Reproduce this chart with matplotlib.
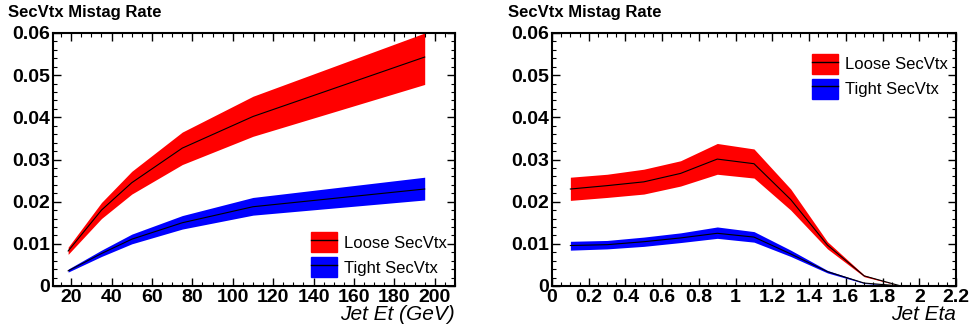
# SecVtx mistag rate vs jet Et and jet eta

import numpy as np
import matplotlib.pyplot as plt
from matplotlib.ticker import MultipleLocator
from matplotlib.patches import Patch
from matplotlib.lines import Line2D

plt.rcParams['font.family'] = ['Liberation Sans', 'DejaVu Sans']

# Jet Et panel
et = [18.5, 35, 50, 75, 110, 195]
loose_et = [0.0083, 0.0180, 0.0245, 0.0327, 0.0402, 0.0543]
loose_et_lo = [0.0075, 0.0160, 0.0218, 0.0288, 0.0355, 0.0478]
loose_et_hi = [0.0092, 0.0198, 0.0272, 0.0365, 0.0450, 0.0600]
tight_et = [0.0036, 0.0077, 0.0111, 0.0150, 0.0188, 0.0230]
tight_et_lo = [0.0033, 0.0070, 0.0100, 0.0135, 0.0168, 0.0204]
tight_et_hi = [0.0040, 0.0085, 0.0123, 0.0167, 0.0210, 0.0258]

# Jet eta panel
eta = [0.1, 0.3, 0.5, 0.7, 0.9, 1.1, 1.3, 1.5, 1.7, 1.9]
loose_eta = [0.0230, 0.0238, 0.0247, 0.0267, 0.0301, 0.0290, 0.0205, 0.0097, 0.0024, 0.0]
loose_eta_lo = [0.0203, 0.0210, 0.0218, 0.0237, 0.0265, 0.0256, 0.0180, 0.0088, 0.0022, 0.0]
loose_eta_hi = [0.0258, 0.0265, 0.0277, 0.0297, 0.0338, 0.0325, 0.0230, 0.0105, 0.0026, 0.0]
tight_eta = [0.0096, 0.0098, 0.0105, 0.0114, 0.0125, 0.0116, 0.0076, 0.0034, 0.0007, 0.0]
tight_eta_lo = [0.0085, 0.0088, 0.0094, 0.0103, 0.0113, 0.0104, 0.0070, 0.0031, 0.0006, 0.0]
tight_eta_hi = [0.0106, 0.0108, 0.0116, 0.0126, 0.0140, 0.0129, 0.0085, 0.0037, 0.0008, 0.0]

fig = plt.figure(figsize=(9.7, 3.33), dpi=100)
ax1 = fig.add_axes([53/970, 1 - 286/333, 402/970, 253/333])
ax2 = fig.add_axes([552/970, 1 - 286/333, 404/970, 253/333])


def draw(ax, x, l, llo, lhi, t, tlo, thi):
    ax.fill_between(x, llo, lhi, color='#ff0000', lw=0)
    ax.plot(x, l, color='black', lw=0.8)
    ax.fill_between(x, tlo, thi, color='#0000ff', lw=0)
    ax.plot(x, t, color='black', lw=0.8)
    ax.set_ylim(0, 0.06)
    ax.yaxis.set_major_locator(MultipleLocator(0.01))
    ax.yaxis.set_minor_locator(MultipleLocator(0.002))
    ax.yaxis.set_major_formatter(plt.FuncFormatter(lambda v, p: '0' if v == 0 else '%g' % round(v, 3)))
    ax.tick_params(which='both', direction='in', top=True, right=True)
    ax.tick_params(which='major', length=6, width=1, labelsize=14, pad=2)
    ax.tick_params(which='minor', length=3, width=0.8)
    for s in ax.spines.values():
        s.set_linewidth(1.5)


draw(ax1, et, loose_et, loose_et_lo, loose_et_hi, tight_et, tight_et_lo, tight_et_hi)
ax1.set_xlim(11, 210)
ax1.set_xticks(np.arange(20, 201, 20))
ax1.xaxis.set_minor_locator(MultipleLocator(5))

draw(ax2, eta, loose_eta, loose_eta_lo, loose_eta_hi, tight_eta, tight_eta_lo, tight_eta_hi)
ax2.set_xlim(0, 2.2)
ax2.xaxis.set_major_locator(MultipleLocator(0.2))
ax2.xaxis.set_minor_locator(MultipleLocator(0.05))
ax2.xaxis.set_major_formatter(plt.FuncFormatter(lambda v, p: '%g' % round(v, 2)))

for ax in (ax1, ax2):
    for lab in ax.get_xticklabels() + ax.get_yticklabels():
        lab.set_fontweight('bold')

for ax, lab in [(ax1, 'Jet Et (GeV)'), (ax2, 'Jet Eta')]:
    ax.text(1.0, -0.075, lab, transform=ax.transAxes, ha='right', va='top',
            fontsize=15, style='italic')

fig.text(8/970, 1 - 13/333, 'SecVtx Mistag Rate', fontsize=12, fontweight='bold', va='center')
fig.text(508/970, 1 - 13/333, 'SecVtx Mistag Rate', fontsize=12, fontweight='bold', va='center')

handles = [(Patch(color='#ff0000'), Line2D([], [], color='black', lw=1)),
           (Patch(color='#0000ff'), Line2D([], [], color='black', lw=1))]
labels = ['Loose SecVtx', 'Tight SecVtx']
ax1.legend(handles, labels, loc='lower right', bbox_to_anchor=(1 - 8/402, 9/253),
           frameon=False, fontsize=12, handlelength=1.6, handleheight=1.45,
           handletextpad=0.4, labelspacing=0.3, borderpad=0, borderaxespad=0)
ax2.legend(handles, labels, loc='upper right', bbox_to_anchor=(1 - 8/404, 1 - 21/253),
           frameon=False, fontsize=12, handlelength=1.6, handleheight=1.45,
           handletextpad=0.4, labelspacing=0.3, borderpad=0, borderaxespad=0)

plt.savefig('out.png', dpi=100)
